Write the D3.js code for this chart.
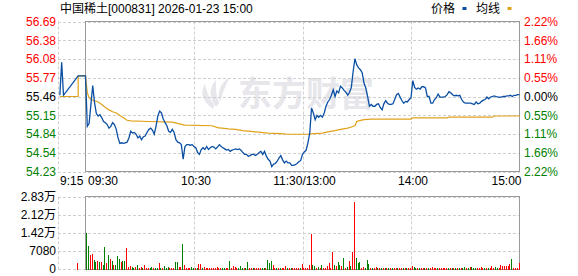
<!DOCTYPE html>
<html>
<head>
<meta charset="utf-8">
<script src="https://cdn.jsdelivr.net/npm/d3@7"></script>
<style>
  body { margin: 0; background: #fff; }
  svg { display: block; font-family: "Liberation Sans", Arial, "Noto Sans CJK SC", sans-serif; }
</style>
</head>
<body>
<svg id="drawing_region"></svg>
<script>
// ---- data ----
const title = "中国稀土[000831] 2026-01-23 15:00";
const prevClose = 55.46;

// last price per minute: 0 = 09:30, 120 = 11:30/13:00, 240 = 15:00
const price = [
    55.80,54.97,55.02,55.33,55.64,55.36,55.18,55.14,55.16,55.11, // 0
    55.05,55.03,55.00,54.94,54.97,55.03,55.00,54.92,54.78,54.69, // 10
    54.70,54.69,54.70,54.71,54.78,54.89,54.86,54.87,54.84,54.78, // 20
    54.81,54.75,54.80,54.81,54.87,54.92,54.94,54.91,54.84,54.97, // 30
    55.14,55.22,55.19,55.09,55.03,54.98,54.89,54.87,54.92,54.87, // 40
    54.75,54.71,54.70,54.67,54.43,54.64,54.67,54.67,54.66,54.67, // 50
    54.64,54.62,54.54,54.51,54.59,54.62,54.59,54.64,54.59,54.62, // 60
    54.64,54.63,54.60,54.63,54.67,54.64,54.62,54.60,54.58,54.59, // 70
    54.56,54.58,54.59,54.60,54.59,54.60,54.58,54.54,54.51,54.51, // 80
    54.48,54.49,54.51,54.51,54.49,54.51,54.54,54.56,54.51,54.56, // 90
    54.48,54.43,54.40,54.31,54.35,54.36,54.40,54.45,54.49,54.42, // 100
    54.37,54.40,54.37,54.37,54.33,54.33,54.34,54.36,54.39,54.41, // 110
    54.51,54.55,54.58,54.70,54.86,55.27,55.19,55.08,55.15,55.12, // 120
    55.15,55.12,55.19,55.30,55.37,55.41,55.48,55.57,55.46,55.55, // 130
    55.52,55.63,55.60,55.56,55.53,55.48,55.53,55.61,55.87,56.08, // 140
    55.98,55.93,55.90,55.85,55.68,55.60,55.46,55.30,55.33,55.30, // 150
    55.30,55.33,55.34,55.28,55.24,55.34,55.39,55.35,55.33,55.33, // 160
    55.34,55.41,55.49,55.51,55.45,55.39,55.35,55.38,55.37,55.41, // 170
    55.44,55.72,55.61,55.58,55.60,55.58,55.62,55.62,55.60,55.46, // 180
    55.46,55.35,55.35,55.41,55.44,55.50,55.45,55.45,55.45,55.46, // 190
    55.49,55.54,55.52,55.49,55.47,55.48,55.47,55.48,55.41,55.37, // 200
    55.35,55.35,55.35,55.35,55.34,55.33,55.37,55.34,55.35,55.38, // 210
    55.40,55.41,55.45,55.42,55.45,55.46,55.47,55.46,55.45,55.45, // 220
    55.45,55.46,55.46,55.47,55.47,55.48,55.46,55.48,55.48,55.49, // 230
    55.49
];

// call auction before 09:30 [minute, price]
const auction = [[-14, 55.48], [-13, 56.02], [-12, 55.48], [-4, 55.80]];

// average price line, break points [minute, price]
const avgLine = [
    [-14,55.46],[-4,55.46],[-4,55.80],[0,55.80],[1,55.52],[2,55.44],[3,55.41],[5,55.39],
    [7,55.37],[9,55.33],[11,55.28],[13,55.24],[15,55.21],[17,55.19],[19,55.15],[21,55.11],
    [23,55.07],[25,55.06],[35,55.05],[48,55.04],[52,55.01],[55,54.99],[70,54.98],[73,54.95],
    [79,54.93],[83,54.92],[87,54.90],[94,54.88],[101,54.86],[108,54.85],[112,54.84],[123,54.84],
    [126,54.85],[131,54.86],[134,54.88],[138,54.90],[141,54.92],[145,54.94],[147,54.96],[149,54.98],
    [150,55.05],[151,55.06],[154,55.08],[158,55.09],[180,55.09],[181,55.11],[200,55.11],[201,55.12],
    [225,55.12],[226,55.14],[239,55.14],[240,55.15]
];

// volume per minute 1..240 (shares); sign: + up minute, - down minute
const volume = [
    -13800,-9000,5500,5900,-3500,-2400,3100,-2400,2400,-1200,   // 1
    -8300,2000,-5500,3900,-3100,1200,-1200,-5100,-3900,2400,    // 11
    -3100,-2800,7900,400,800,-400,-100,400,-1200,100,           // 21
    400,-100,1200,100,100,-100,-400,100,-100,-100,              // 31
    2000,-100,100,-800,-100,-400,100,100,100,-2400,             // 41
    -2400,400,400,-9800,1200,100,100,100,-400,-100,             // 51
    100,-100,1600,1600,-100,400,100,100,100,100,                // 61
    100,100,400,100,100,-100,-100,100,100,-2800,                // 71
    100,800,400,100,-100,-800,-100,100,-100,-2400,              // 81
    100,100,-100,100,100,100,100,-100,-100,100,                 // 91
    -3500,-2000,-3100,1200,100,-100,100,-100,100,100,           // 101
    800,-100,100,-100,100,100,100,100,-100,1900,                // 111
    100,100,100,1300,13600,-1300,-1100,300,-500,300,            // 121
    -1300,300,300,800,2100,300,6400,-1300,1000,-2500,           // 131
    -1300,1000,-4000,300,-500,2900,-1000,6400,26100,-4000,      // 141
    -2100,-2500,200,500,-100,-3300,-1800,100,-200,100,          // 151
    500,-100,100,-200,100,-100,100,-200,100,-100,               // 161
    100,100,-100,100,100,-100,100,-100,100,100,                 // 171
    1100,-400,-100,100,-100,100,100,-100,100,-100,              // 181
    100,400,100,100,-100,100,100,100,100,100,                   // 191
    -100,100,-100,100,-100,100,-100,100,-100,-400,              // 201
    100,-100,600,-400,-200,-200,100,100,400,100,                // 211
    -100,100,-100,100,1100,100,-400,-100,100,1400,              // 221
    800,1100,1100,1100,1800,-3700,100,100,100,2200              // 231
];
const auctionVolume = [[-4, 2200]];

const priceLabels = ["56.69","56.38","56.08","55.77","55.46","55.15","54.84","54.54","54.23"];
const pctLabels = ["2.22%","1.66%","1.11%","0.55%","0.00%","0.55%","1.11%","1.66%","2.22%"];
const volTicks = [0, 7080, 14160, 21240, 28320];
const volLabels = ["0", "7080", "1.42万", "2.12万", "2.83万"];
const timeTicks = [-15, 0, 60, 120, 180, 240];
const timeLabels = ["9:15", "09:30", "10:30", "11:30/13:00", "14:00", "15:00"];

// ---- drawing ----
const RED = "#ff0000", GREEN = "#008000", BLUE = "#0b4fa3", GOLD = "#e0a21b";
const GRID = "#cfcfcf", FRAME = "#9a9a9a";

const svg = d3.select("#drawing_region").attr("width", 578).attr("height", 276);

const x = d3.scaleLinear().domain([-15, 0, 240]).range([58, 85.5, 519.5]);
const span = prevClose * 0.0222;
const y = d3.scaleLinear().domain([prevClose - span, prevClose + span]).range([171.5, 21.5]);
const yv = d3.scaleLinear().domain([0, 28320]).range([268.5, 196.5]);
const priceTicks = d3.range(9).map(i => prevClose + span - i * span / 4);

// watermark
const wm = svg.append("g").attr("fill", "#e6e6eb");
wm.append("path").attr("d", "M213,109 Q197,97 205,84 Q207,95 214,105 Z");
wm.append("path").attr("d", "M216,107 Q205,92 216,80 Q215,93 219,103 Z");
wm.append("path").attr("d", "M220,102 Q215,87 230,77 Q223,90 220,102 Z");
wm.append("text").attr("x", 238).attr("y", 106)
    .attr("font-family", "'Noto Sans CJK SC', sans-serif")
    .attr("font-size", 34).attr("font-weight", "bold")
    .text("东方财富");

// grids
const grid = svg.append("g").attr("stroke", GRID).attr("stroke-dasharray", "3,2").attr("fill", "none");
grid.selectAll(".hp").data(priceTicks).join("line")
    .attr("x1", 58).attr("x2", 519.5)
    .attr("y1", d => Math.round(y(d)) + 0.5).attr("y2", d => Math.round(y(d)) + 0.5);
grid.selectAll(".hv").data(volTicks).join("line")
    .attr("x1", 58).attr("x2", 519.5)
    .attr("y1", d => Math.round(yv(d)) + 0.5).attr("y2", d => Math.round(yv(d)) + 0.5);
[-15, 60, 120, 180].forEach(m => {
    const gx = Math.round(x(m)) + 0.5;
    grid.append("line").attr("x1", gx).attr("x2", gx).attr("y1", 21.5).attr("y2", 171.5);
    grid.append("line").attr("x1", gx).attr("x2", gx).attr("y1", 196.5).attr("y2", 269.5);
});

// frames
svg.append("rect").attr("x", 85.5).attr("y", 21.5).attr("width", 434).attr("height", 150)
    .attr("fill", "none").attr("stroke", FRAME);
svg.append("rect").attr("x", 85.5).attr("y", 196.5).attr("width", 434).attr("height", 73)
    .attr("fill", "none").attr("stroke", FRAME);

// volume bars
const bars = auctionVolume.map(d => ({m: d[0], v: d[1]}))
    .concat(volume.map((v, i) => ({m: i + 1, v: v})));
svg.append("g").selectAll("rect").data(bars).join("rect")
    .attr("x", d => Math.round(x(d.m)) - 1)
    .attr("width", 1)
    .attr("y", d => yv(Math.abs(d.v)))
    .attr("height", d => 270 - yv(Math.abs(d.v)))
    .attr("shape-rendering", "crispEdges")
    .attr("fill", d => d.v >= 0 ? RED : GREEN);

// lines
const line = d3.line().x(d => x(d[0])).y(d => y(d[1]));
svg.append("path").datum(avgLine)
    .attr("d", line).attr("fill", "none").attr("stroke", GOLD).attr("stroke-width", 1.2);
const pts = auction.concat(price.map((p, i) => [i, p]));
svg.append("path").datum(pts)
    .attr("d", line).attr("fill", "none").attr("stroke", BLUE).attr("stroke-width", 1.3);

// axes
function styleAxis(g) {
    g.select(".domain").remove();
    g.attr("font-size", 12).attr("font-family", null);
}
const tickColor = i => i < 4 ? RED : (i === 4 ? "#000" : GREEN);

svg.append("g").attr("transform", "translate(58,0)")
    .call(d3.axisLeft(y).tickValues(priceTicks).tickFormat((d, i) => priceLabels[i]).tickSize(0).tickPadding(2))
    .call(styleAxis)
    .selectAll("text").attr("fill", (d, i) => tickColor(i));

svg.append("g").attr("transform", "translate(519.5,0)")
    .call(d3.axisRight(y).tickValues(priceTicks).tickFormat((d, i) => pctLabels[i]).tickSize(0).tickPadding(4.5))
    .call(styleAxis)
    .selectAll("text").attr("fill", (d, i) => tickColor(i));

svg.append("g").attr("transform", "translate(58,0)")
    .call(d3.axisLeft(yv).tickValues(volTicks).tickFormat((d, i) => volLabels[i]).tickSize(0).tickPadding(2))
    .call(styleAxis)
    .selectAll("text").attr("fill", "#000");

svg.append("g").attr("transform", "translate(0,171.5)")
    .call(d3.axisBottom(x).tickValues(timeTicks).tickFormat((d, i) => timeLabels[i]).tickSize(0).tickPadding(5))
    .call(styleAxis)
    .selectAll("text")
    .attr("fill", "#000")
    .attr("text-anchor", (d, i) => i < 2 ? "start" : (i === timeTicks.length - 1 ? "end" : "middle"))
    .attr("dx", (d, i) => i === 1 ? 2 : (i === 5 ? 1.5 : 1.5));

// title and legend
svg.append("text").attr("x", 60).attr("y", 13).attr("font-size", 12).text(title);
svg.append("text").attr("x", 431).attr("y", 13).attr("font-size", 12).text("价格");
svg.append("rect").attr("x", 462.5).attr("y", 7).attr("width", 4).attr("height", 3).attr("fill", BLUE);
svg.append("text").attr("x", 476).attr("y", 13).attr("font-size", 12).text("均线");
svg.append("rect").attr("x", 507.5).attr("y", 7).attr("width", 4).attr("height", 3).attr("fill", GOLD);
</script>
</body>
</html>
